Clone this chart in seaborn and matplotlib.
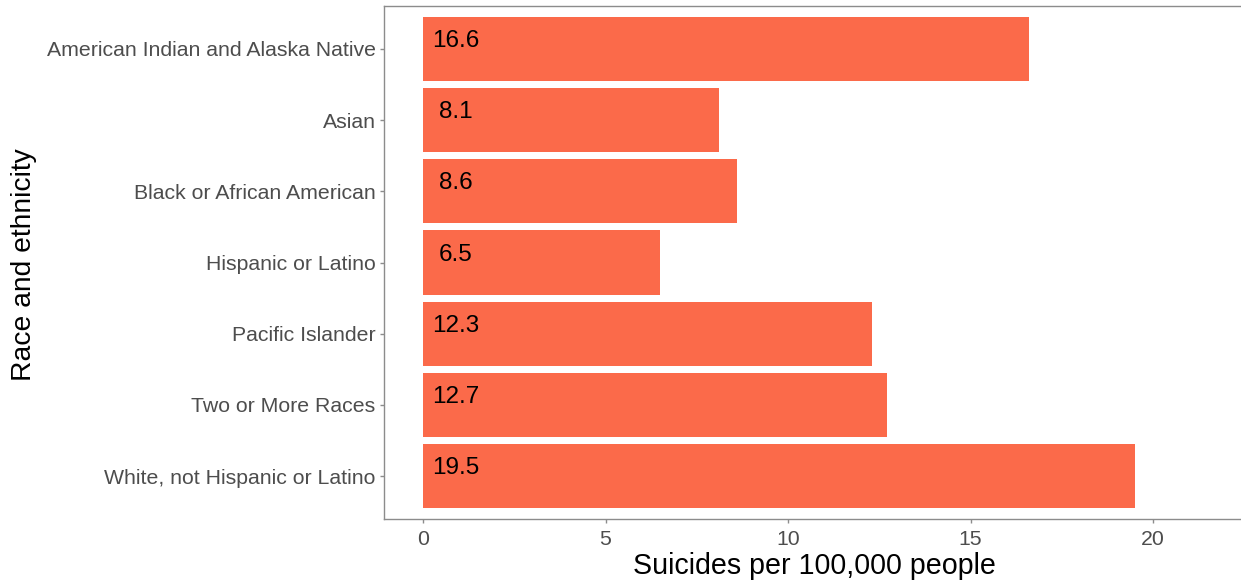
import matplotlib
matplotlib.use("Agg")
import matplotlib.pyplot as plt
import seaborn as sns
import pandas as pd

# data
races = [
    "American Indian and Alaska Native",
    "Asian",
    "Black or African American",
    "Hispanic or Latino",
    "Pacific Islander",
    "Two or More Races",
    "White, not Hispanic or Latino",
]
rates = [16.6, 8.1, 8.6, 6.5, 12.3, 12.7, 19.5]
xticks = [0, 5, 10, 15, 20]

BAR_COLOR = "#FB6A4A"
AXIS_GREY = "#8C8C8C"
TICK_TEXT = "#4D4D4D"

sns.set_style("white")
plt.rcParams["font.family"] = ["Liberation Sans", "DejaVu Sans"]

df = pd.DataFrame({"race": races, "rate": rates})

fig = plt.figure(figsize=(12.41, 5.82), dpi=100)
# panel runs a little past the right edge, as in the cropped reference
ax = fig.add_axes([384 / 1241, 63 / 582, 860 / 1241, 513 / 582])

sns.barplot(data=df, x="rate", y="race", color=BAR_COLOR, width=0.9,
            orient="h", saturation=1, linewidth=0, ax=ax)

# value labels near the start of each bar
for i, v in enumerate(df["rate"]):
    ax.text(0.9, i - 0.11, f"{v}", ha="center", va="center",
            fontsize=17.5, color="black")

ax.set_xlim(-1.068, 22.49)
ax.set_ylim(6.6, -0.6)
ax.set_xticks(xticks)
ax.set_xticklabels([str(t) for t in xticks])

#spines
for side in ["left", "bottom", "top"]:
    ax.spines[side].set_visible(True)
    ax.spines[side].set_color(AXIS_GREY)
    ax.spines[side].set_linewidth(1.0)
ax.spines["right"].set_visible(False)

ax.tick_params(axis="both", direction="out", length=3, width=1,
               color=AXIS_GREY, labelcolor=TICK_TEXT, labelsize=15.3, pad=3,
               left=True, bottom=True)
ax.tick_params(axis="x", pad=5)

#labeling
ax.set_xlabel("Suicides per 100,000 people", fontsize=20.6, color="black", labelpad=2)
ax.set_ylabel("Race and ethnicity", fontsize=20.3, color="black")
ax.yaxis.set_label_coords(-0.404, 0.495)

fig.savefig("out.png", dpi=100)
